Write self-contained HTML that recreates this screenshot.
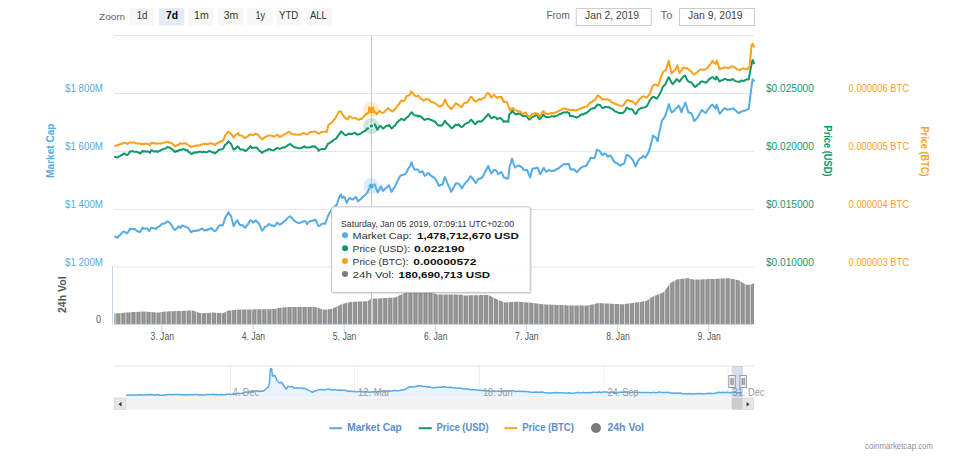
<!DOCTYPE html><html><head><meta charset="utf-8"><style>html,body{margin:0;padding:0;background:#fff;overflow:hidden}svg{display:block}text{font-family:"Liberation Sans",sans-serif}</style></head><body>
<svg width="961" height="462" viewBox="0 0 961 462">
<rect x="0" y="0" width="961" height="462" fill="#fff"/>
<text x="99.00" y="19.90" font-size="9.6" fill="#666" font-weight="normal" textLength="26.00" lengthAdjust="spacingAndGlyphs" >Zoom</text>
<rect x="129" y="8" width="25.5" height="17.5" rx="2" fill="#f7f7f7"/>
<text x="136.70" y="19.10" font-size="10.5" fill="#333" font-weight="normal" textLength="10.80" lengthAdjust="spacingAndGlyphs" >1d</text>
<rect x="158.8" y="8" width="25.5" height="17.5" rx="2" fill="#e6ebf5"/>
<text x="166.00" y="19.10" font-size="10.5" fill="#000" font-weight="bold" textLength="12.00" lengthAdjust="spacingAndGlyphs" >7d</text>
<rect x="188.2" y="8" width="25.5" height="17.5" rx="2" fill="#f7f7f7"/>
<text x="194.00" y="19.10" font-size="10.5" fill="#333" font-weight="normal" textLength="14.70" lengthAdjust="spacingAndGlyphs" >1m</text>
<rect x="218" y="8" width="25.5" height="17.5" rx="2" fill="#f7f7f7"/>
<text x="223.80" y="19.10" font-size="10.5" fill="#333" font-weight="normal" textLength="14.50" lengthAdjust="spacingAndGlyphs" >3m</text>
<rect x="247" y="8" width="25.5" height="17.5" rx="2" fill="#f7f7f7"/>
<text x="255.40" y="19.10" font-size="10.5" fill="#333" font-weight="normal" textLength="9.60" lengthAdjust="spacingAndGlyphs" >1y</text>
<rect x="277" y="8" width="25.5" height="17.5" rx="2" fill="#f7f7f7"/>
<text x="279.00" y="19.10" font-size="10.5" fill="#333" font-weight="normal" textLength="19.30" lengthAdjust="spacingAndGlyphs" >YTD</text>
<rect x="306.3" y="8" width="25.5" height="17.5" rx="2" fill="#f7f7f7"/>
<text x="310.00" y="19.10" font-size="10.5" fill="#333" font-weight="normal" textLength="16.90" lengthAdjust="spacingAndGlyphs" >ALL</text>
<text x="546.40" y="18.90" font-size="10" fill="#666" font-weight="normal" textLength="23.40" lengthAdjust="spacingAndGlyphs" >From</text>
<rect x="576.2" y="8.5" width="75" height="17" fill="#fff" stroke="#cccccc" stroke-width="1"/>
<text x="585.00" y="19.20" font-size="10.5" fill="#444" font-weight="normal" textLength="54.00" lengthAdjust="spacingAndGlyphs" >Jan 2, 2019</text>
<text x="660.60" y="18.90" font-size="10" fill="#666" font-weight="normal" textLength="11.70" lengthAdjust="spacingAndGlyphs" >To</text>
<rect x="679.5" y="8.5" width="75" height="17" fill="#fff" stroke="#cccccc" stroke-width="1"/>
<text x="688.00" y="19.20" font-size="10.5" fill="#444" font-weight="normal" textLength="54.60" lengthAdjust="spacingAndGlyphs" >Jan 9, 2019</text>
<g stroke="#e6e6e6" stroke-width="1">
<line x1="114" y1="35.5" x2="754" y2="35.5"/>
<line x1="114" y1="93.5" x2="754" y2="93.5"/>
<line x1="114" y1="151.5" x2="754" y2="151.5"/>
<line x1="114" y1="209.5" x2="754" y2="209.5"/>
<line x1="114" y1="267" x2="754" y2="267"/>
</g>
<text x="65.00" y="92.30" font-size="10" fill="#5aa9e0" font-weight="normal" textLength="38.00" lengthAdjust="spacingAndGlyphs" >$1 800M</text>
<text x="65.00" y="150.10" font-size="10" fill="#5aa9e0" font-weight="normal" textLength="38.00" lengthAdjust="spacingAndGlyphs" >$1 600M</text>
<text x="65.00" y="207.90" font-size="10" fill="#5aa9e0" font-weight="normal" textLength="38.00" lengthAdjust="spacingAndGlyphs" >$1 400M</text>
<text x="65.00" y="265.70" font-size="10" fill="#5aa9e0" font-weight="normal" textLength="38.00" lengthAdjust="spacingAndGlyphs" >$1 200M</text>
<text x="766.00" y="92.30" font-size="10" fill="#10976d" font-weight="normal" textLength="47.80" lengthAdjust="spacingAndGlyphs" >$0.025000</text>
<text x="848.60" y="92.30" font-size="10" fill="#f9a11b" font-weight="normal" textLength="60.40" lengthAdjust="spacingAndGlyphs" >0.000006 BTC</text>
<text x="766.00" y="150.10" font-size="10" fill="#10976d" font-weight="normal" textLength="47.80" lengthAdjust="spacingAndGlyphs" >$0.020000</text>
<text x="848.60" y="150.10" font-size="10" fill="#f9a11b" font-weight="normal" textLength="60.40" lengthAdjust="spacingAndGlyphs" >0.000005 BTC</text>
<text x="766.00" y="207.90" font-size="10" fill="#10976d" font-weight="normal" textLength="47.80" lengthAdjust="spacingAndGlyphs" >$0.015000</text>
<text x="848.60" y="207.90" font-size="10" fill="#f9a11b" font-weight="normal" textLength="60.40" lengthAdjust="spacingAndGlyphs" >0.000004 BTC</text>
<text x="766.00" y="265.70" font-size="10" fill="#10976d" font-weight="normal" textLength="47.80" lengthAdjust="spacingAndGlyphs" >$0.010000</text>
<text x="848.60" y="265.70" font-size="10" fill="#f9a11b" font-weight="normal" textLength="60.40" lengthAdjust="spacingAndGlyphs" >0.000003 BTC</text>
<g transform="translate(50.80,150.70) rotate(-90)"><text x="-27.20" y="3.67" font-size="10.5" fill="#55abe4" font-weight="bold" textLength="54.40" lengthAdjust="spacingAndGlyphs">Market Cap</text></g>
<g transform="translate(62.40,294.70) rotate(-90)"><text x="-18.30" y="3.67" font-size="10.5" fill="#555" font-weight="bold" textLength="36.60" lengthAdjust="spacingAndGlyphs">24h Vol</text></g>
<g transform="translate(828.00,151.00) rotate(90)"><text x="-25.50" y="3.67" font-size="10.5" fill="#10976d" font-weight="bold" textLength="51.00" lengthAdjust="spacingAndGlyphs">Price (USD)</text></g>
<g transform="translate(924.70,151.50) rotate(90)"><text x="-25.10" y="3.67" font-size="10.5" fill="#f9a11b" font-weight="bold" textLength="50.20" lengthAdjust="spacingAndGlyphs">Price (BTC)</text></g>
<polygon points="114.3,324.0 114.3,313.6 115.3,313.5 116.3,313.4 117.3,313.3 118.3,313.2 119.3,313.2 120.3,313.1 121.3,313.0 122.3,312.9 123.3,312.8 124.3,312.7 125.3,312.6 126.3,312.6 127.3,312.5 128.3,312.4 129.3,312.3 130.3,312.2 131.3,312.2 132.3,312.1 133.3,312.1 134.3,312.0 135.3,312.0 136.3,311.9 137.3,311.8 138.3,311.8 139.3,311.7 140.3,311.7 141.3,311.6 142.3,311.6 143.3,311.5 144.3,311.5 145.3,311.6 146.3,311.7 147.3,311.8 148.3,311.8 149.3,311.9 150.3,312.0 151.3,312.1 152.3,312.2 153.3,312.2 154.3,312.3 155.3,312.4 156.3,312.5 157.3,312.5 158.3,312.6 159.3,312.4 160.3,312.2 161.3,312.1 162.3,311.9 163.3,311.8 164.3,311.6 165.3,311.5 166.3,311.5 167.3,311.4 168.3,311.4 169.3,311.3 170.3,311.3 171.3,311.3 172.3,311.2 173.3,311.2 174.3,311.2 175.3,311.1 176.3,311.1 177.3,311.1 178.3,311.0 179.3,311.0 180.3,310.9 181.3,310.9 182.3,310.9 183.3,310.8 184.3,310.8 185.3,310.8 186.3,310.7 187.3,310.7 188.3,310.6 189.3,310.6 190.3,310.6 191.3,310.5 192.3,310.5 193.3,310.8 194.3,311.1 195.3,311.4 196.3,311.8 197.3,312.1 198.3,312.4 199.3,312.7 200.3,313.1 201.3,313.3 202.3,313.2 203.3,313.2 204.3,313.1 205.3,313.0 206.3,313.0 207.3,312.9 208.3,312.9 209.3,312.8 210.3,312.8 211.3,312.7 212.3,312.6 213.3,312.6 214.3,312.7 215.3,312.8 216.3,312.8 217.3,312.9 218.3,313.0 219.3,313.0 220.3,313.1 221.3,313.2 222.3,313.3 223.3,313.1 224.3,312.6 225.3,312.1 226.3,311.6 227.3,311.1 228.3,310.6 229.3,310.4 230.3,310.4 231.3,310.3 232.3,310.2 233.3,310.1 234.3,310.0 235.3,309.9 236.3,309.9 237.3,309.8 238.3,309.7 239.3,309.6 240.3,309.5 241.3,309.5 242.3,309.5 243.3,309.5 244.3,309.5 245.3,309.4 246.3,309.4 247.3,309.4 248.3,309.4 249.3,309.4 250.3,309.4 251.3,309.4 252.3,309.4 253.3,309.4 254.3,309.3 255.3,309.3 256.3,309.3 257.3,309.3 258.3,309.3 259.3,309.3 260.3,309.3 261.3,309.3 262.3,309.2 263.3,309.2 264.3,309.2 265.3,309.2 266.3,309.2 267.3,309.2 268.3,309.2 269.3,309.2 270.3,309.2 271.3,309.1 272.3,309.1 273.3,309.1 274.3,309.1 275.3,308.9 276.3,308.6 277.3,308.2 278.3,308.0 279.3,307.9 280.3,307.8 281.3,307.7 282.3,307.6 283.3,307.5 284.3,307.4 285.3,307.3 286.3,307.2 287.3,307.1 288.3,307.0 289.3,307.0 290.3,307.0 291.3,307.0 292.3,307.0 293.3,307.0 294.3,307.0 295.3,307.0 296.3,307.0 297.3,307.0 298.3,307.0 299.3,307.0 300.3,307.0 301.3,307.0 302.3,307.0 303.3,307.0 304.3,307.0 305.3,307.0 306.3,307.0 307.3,307.0 308.3,307.0 309.3,307.0 310.3,307.0 311.3,307.0 312.3,307.0 313.3,307.0 314.3,307.0 315.3,307.0 316.3,307.1 317.3,307.5 318.3,307.9 319.3,308.3 320.3,308.7 321.3,309.1 322.3,309.5 323.3,309.8 324.3,309.7 325.3,309.6 326.3,309.5 327.3,309.4 328.3,309.3 329.3,309.2 330.3,309.1 331.3,309.0 332.3,308.6 333.3,308.2 334.3,307.7 335.3,307.3 336.3,306.8 337.3,306.4 338.3,305.9 339.3,305.5 340.3,305.0 341.3,304.6 342.3,304.1 343.3,303.7 344.3,303.4 345.3,303.2 346.3,302.9 347.3,302.7 348.3,302.4 349.3,302.2 350.3,302.0 351.3,301.9 352.3,301.9 353.3,301.8 354.3,301.8 355.3,301.8 356.3,301.7 357.3,301.7 358.3,301.6 359.3,301.6 360.3,301.5 361.3,301.5 362.3,301.4 363.3,301.4 364.3,301.3 365.3,301.3 366.3,301.3 367.3,301.2 368.3,300.7 369.3,300.0 370.3,299.3 371.3,298.8 372.3,298.7 373.3,298.7 374.3,298.6 375.3,298.6 376.3,298.5 377.3,298.5 378.3,298.4 379.3,298.4 380.3,298.3 381.3,298.2 382.3,298.2 383.3,298.1 384.3,298.1 385.3,298.0 386.3,298.0 387.3,297.9 388.3,297.9 389.3,297.8 390.3,297.8 391.3,297.7 392.3,297.6 393.3,297.6 394.3,297.5 395.3,297.4 396.3,296.9 397.3,296.5 398.3,296.0 399.3,295.6 400.3,295.1 401.3,294.7 402.3,294.2 403.3,293.8 404.3,293.3 405.3,293.0 406.3,293.0 407.3,292.9 408.3,292.9 409.3,292.9 410.3,292.9 411.3,292.8 412.3,292.8 413.3,292.8 414.3,292.7 415.3,292.7 416.3,292.7 417.3,292.7 418.3,292.6 419.3,292.6 420.3,292.6 421.3,292.5 422.3,292.5 423.3,292.5 424.3,292.5 425.3,292.4 426.3,292.4 427.3,292.4 428.3,292.3 429.3,292.3 430.3,292.4 431.3,292.7 432.3,293.0 433.3,293.3 434.3,293.6 435.3,293.9 436.3,294.2 437.3,294.4 438.3,294.4 439.3,294.4 440.3,294.4 441.3,294.5 442.3,294.5 443.3,294.5 444.3,294.5 445.3,294.5 446.3,294.5 447.3,294.5 448.3,294.5 449.3,294.6 450.3,294.6 451.3,294.6 452.3,294.6 453.3,294.6 454.3,294.6 455.3,294.6 456.3,294.6 457.3,294.7 458.3,294.7 459.3,294.7 460.3,294.7 461.3,294.8 462.3,295.0 463.3,295.2 464.3,295.4 465.3,295.4 466.3,295.4 467.3,295.4 468.3,295.3 469.3,295.3 470.3,295.3 471.3,295.3 472.3,295.3 473.3,295.3 474.3,295.2 475.3,295.2 476.3,295.2 477.3,295.2 478.3,295.2 479.3,295.2 480.3,295.1 481.3,295.1 482.3,295.1 483.3,295.1 484.3,295.1 485.3,295.1 486.3,295.0 487.3,295.0 488.3,295.0 489.3,295.5 490.3,296.0 491.3,296.5 492.3,297.0 493.3,297.5 494.3,298.0 495.3,298.5 496.3,299.0 497.3,299.5 498.3,300.0 499.3,300.4 500.3,300.8 501.3,301.1 502.3,301.5 503.3,301.8 504.3,302.2 505.3,302.5 506.3,302.5 507.3,302.4 508.3,302.3 509.3,302.2 510.3,302.1 511.3,302.0 512.3,301.9 513.3,301.9 514.3,301.8 515.3,301.7 516.3,301.6 517.3,301.7 518.3,301.8 519.3,301.8 520.3,301.9 521.3,302.0 522.3,302.1 523.3,302.1 524.3,302.2 525.3,302.3 526.3,302.4 527.3,302.4 528.3,302.5 529.3,302.6 530.3,302.7 531.3,302.8 532.3,302.9 533.3,303.1 534.3,303.2 535.3,303.3 536.3,303.4 537.3,303.6 538.3,303.7 539.3,303.8 540.3,303.9 541.3,304.1 542.3,304.2 543.3,304.3 544.3,304.3 545.3,304.4 546.3,304.4 547.3,304.5 548.3,304.5 549.3,304.6 550.3,304.6 551.3,304.7 552.3,304.7 553.3,304.8 554.3,304.8 555.3,304.8 556.3,304.9 557.3,304.9 558.3,305.0 559.3,305.0 560.3,305.1 561.3,305.1 562.3,305.2 563.3,305.2 564.3,305.3 565.3,305.3 566.3,305.3 567.3,305.4 568.3,305.4 569.3,305.4 570.3,305.4 571.3,305.4 572.3,305.4 573.3,305.4 574.3,305.4 575.3,305.4 576.3,305.4 577.3,305.4 578.3,305.4 579.3,305.4 580.3,305.4 581.3,305.4 582.3,305.4 583.3,305.4 584.3,305.4 585.3,305.4 586.3,305.4 587.3,305.4 588.3,305.3 589.3,305.1 590.3,304.9 591.3,304.6 592.3,304.4 593.3,304.2 594.3,303.9 595.3,303.7 596.3,303.5 597.3,303.2 598.3,303.0 599.3,303.1 600.3,303.1 601.3,303.2 602.3,303.2 603.3,303.3 604.3,303.3 605.3,303.4 606.3,303.4 607.3,303.5 608.3,303.5 609.3,303.6 610.3,303.6 611.3,303.7 612.3,303.8 613.3,303.8 614.3,303.9 615.3,303.9 616.3,304.0 617.3,304.0 618.3,304.1 619.3,304.1 620.3,304.2 621.3,304.2 622.3,304.3 623.3,304.2 624.3,304.1 625.3,303.9 626.3,303.8 627.3,303.7 628.3,303.6 629.3,303.4 630.3,303.3 631.3,303.2 632.3,303.1 633.3,302.9 634.3,302.8 635.3,302.7 636.3,302.6 637.3,302.4 638.3,302.2 639.3,302.1 640.3,301.9 641.3,301.7 642.3,301.6 643.3,301.4 644.3,301.2 645.3,301.1 646.3,300.9 647.3,300.2 648.3,299.6 649.3,298.9 650.3,298.3 651.3,297.6 652.3,297.0 653.3,296.4 654.3,296.0 655.3,295.6 656.3,295.2 657.3,294.8 658.3,294.4 659.3,294.0 660.3,293.6 661.3,293.2 662.3,292.8 663.3,292.4 664.3,291.2 665.3,289.9 666.3,288.5 667.3,287.2 668.3,285.8 669.3,284.5 670.3,283.1 671.3,282.5 672.3,282.0 673.3,281.4 674.3,280.9 675.3,280.4 676.3,279.8 677.3,279.3 678.3,279.2 679.3,279.1 680.3,279.0 681.3,278.9 682.3,278.8 683.3,278.7 684.3,278.6 685.3,278.4 686.3,278.3 687.3,278.2 688.3,278.3 689.3,278.6 690.3,278.8 691.3,279.0 692.3,279.2 693.3,279.4 694.3,279.6 695.3,279.6 696.3,279.5 697.3,279.5 698.3,279.5 699.3,279.5 700.3,279.4 701.3,279.4 702.3,279.4 703.3,279.3 704.3,279.3 705.3,279.3 706.3,279.2 707.3,279.2 708.3,279.1 709.3,279.1 710.3,279.0 711.3,279.0 712.3,279.0 713.3,278.9 714.3,278.9 715.3,278.8 716.3,278.8 717.3,278.7 718.3,278.7 719.3,278.6 720.3,278.6 721.3,278.5 722.3,278.5 723.3,278.5 724.3,278.4 725.3,278.4 726.3,278.3 727.3,278.3 728.3,278.2 729.3,278.3 730.3,278.5 731.3,278.7 732.3,278.9 733.3,279.1 734.3,279.3 735.3,279.5 736.3,279.7 737.3,279.9 738.3,280.2 739.3,280.5 740.3,281.1 741.3,281.8 742.3,282.4 743.3,283.1 744.3,283.7 745.3,284.3 746.3,284.8 747.3,284.8 748.3,284.8 749.3,284.8 750.3,284.8 751.3,284.6 752.3,284.0 753.3,283.4 754.0,283.0 754.0,324.0" fill="#8f8f8f"/>
<g stroke="#fff" stroke-width="0.85" stroke-opacity="0.8">
<line x1="115.80" y1="312.45" x2="115.80" y2="324"/>
<line x1="120.84" y1="312.02" x2="120.84" y2="324"/>
<line x1="125.87" y1="311.60" x2="125.87" y2="324"/>
<line x1="130.91" y1="311.18" x2="130.91" y2="324"/>
<line x1="135.94" y1="310.92" x2="135.94" y2="324"/>
<line x1="140.98" y1="310.66" x2="140.98" y2="324"/>
<line x1="146.02" y1="310.66" x2="146.02" y2="324"/>
<line x1="151.05" y1="311.05" x2="151.05" y2="324"/>
<line x1="156.09" y1="311.45" x2="156.09" y2="324"/>
<line x1="161.12" y1="311.11" x2="161.12" y2="324"/>
<line x1="166.16" y1="310.46" x2="166.16" y2="324"/>
<line x1="171.20" y1="310.27" x2="171.20" y2="324"/>
<line x1="176.23" y1="310.09" x2="176.23" y2="324"/>
<line x1="181.27" y1="309.91" x2="181.27" y2="324"/>
<line x1="186.30" y1="309.72" x2="186.30" y2="324"/>
<line x1="191.34" y1="309.54" x2="191.34" y2="324"/>
<line x1="196.38" y1="310.79" x2="196.38" y2="324"/>
<line x1="201.41" y1="312.28" x2="201.41" y2="324"/>
<line x1="206.45" y1="311.98" x2="206.45" y2="324"/>
<line x1="211.48" y1="311.69" x2="211.48" y2="324"/>
<line x1="216.52" y1="311.85" x2="216.52" y2="324"/>
<line x1="221.56" y1="312.20" x2="221.56" y2="324"/>
<line x1="226.59" y1="310.47" x2="226.59" y2="324"/>
<line x1="231.63" y1="309.24" x2="231.63" y2="324"/>
<line x1="236.66" y1="308.82" x2="236.66" y2="324"/>
<line x1="241.70" y1="308.49" x2="241.70" y2="324"/>
<line x1="246.74" y1="308.43" x2="246.74" y2="324"/>
<line x1="251.77" y1="308.37" x2="251.77" y2="324"/>
<line x1="256.81" y1="308.31" x2="256.81" y2="324"/>
<line x1="261.84" y1="308.25" x2="261.84" y2="324"/>
<line x1="266.88" y1="308.19" x2="266.88" y2="324"/>
<line x1="271.92" y1="308.13" x2="271.92" y2="324"/>
<line x1="276.95" y1="307.36" x2="276.95" y2="324"/>
<line x1="281.99" y1="306.62" x2="281.99" y2="324"/>
<line x1="287.02" y1="306.15" x2="287.02" y2="324"/>
<line x1="292.06" y1="306.00" x2="292.06" y2="324"/>
<line x1="297.10" y1="306.00" x2="297.10" y2="324"/>
<line x1="302.13" y1="306.00" x2="302.13" y2="324"/>
<line x1="307.17" y1="306.00" x2="307.17" y2="324"/>
<line x1="312.20" y1="306.00" x2="312.20" y2="324"/>
<line x1="317.24" y1="306.50" x2="317.24" y2="324"/>
<line x1="322.28" y1="308.51" x2="322.28" y2="324"/>
<line x1="327.31" y1="308.39" x2="327.31" y2="324"/>
<line x1="332.35" y1="307.62" x2="332.35" y2="324"/>
<line x1="337.38" y1="305.35" x2="337.38" y2="324"/>
<line x1="342.42" y1="303.09" x2="342.42" y2="324"/>
<line x1="347.46" y1="301.63" x2="347.46" y2="324"/>
<line x1="352.49" y1="300.89" x2="352.49" y2="324"/>
<line x1="357.53" y1="300.66" x2="357.53" y2="324"/>
<line x1="362.56" y1="300.43" x2="362.56" y2="324"/>
<line x1="367.60" y1="300.13" x2="367.60" y2="324"/>
<line x1="372.64" y1="297.71" x2="372.64" y2="324"/>
<line x1="377.67" y1="297.44" x2="377.67" y2="324"/>
<line x1="382.71" y1="297.17" x2="382.71" y2="324"/>
<line x1="387.74" y1="296.89" x2="387.74" y2="324"/>
<line x1="392.78" y1="296.62" x2="392.78" y2="324"/>
<line x1="397.82" y1="295.23" x2="397.82" y2="324"/>
<line x1="402.85" y1="292.97" x2="402.85" y2="324"/>
<line x1="407.89" y1="291.92" x2="407.89" y2="324"/>
<line x1="412.92" y1="291.78" x2="412.92" y2="324"/>
<line x1="417.96" y1="291.64" x2="417.96" y2="324"/>
<line x1="423.00" y1="291.50" x2="423.00" y2="324"/>
<line x1="428.03" y1="291.36" x2="428.03" y2="324"/>
<line x1="433.07" y1="292.23" x2="433.07" y2="324"/>
<line x1="438.10" y1="293.41" x2="438.10" y2="324"/>
<line x1="443.14" y1="293.48" x2="443.14" y2="324"/>
<line x1="448.18" y1="293.54" x2="448.18" y2="324"/>
<line x1="453.21" y1="293.60" x2="453.21" y2="324"/>
<line x1="458.25" y1="293.67" x2="458.25" y2="324"/>
<line x1="463.28" y1="294.18" x2="463.28" y2="324"/>
<line x1="468.32" y1="294.33" x2="468.32" y2="324"/>
<line x1="473.36" y1="294.25" x2="473.36" y2="324"/>
<line x1="478.39" y1="294.17" x2="478.39" y2="324"/>
<line x1="483.43" y1="294.08" x2="483.43" y2="324"/>
<line x1="488.46" y1="294.03" x2="488.46" y2="324"/>
<line x1="493.50" y1="296.57" x2="493.50" y2="324"/>
<line x1="498.54" y1="299.12" x2="498.54" y2="324"/>
<line x1="503.57" y1="300.92" x2="503.57" y2="324"/>
<line x1="508.61" y1="301.30" x2="508.61" y2="324"/>
<line x1="513.64" y1="300.82" x2="513.64" y2="324"/>
<line x1="518.68" y1="300.80" x2="518.68" y2="324"/>
<line x1="523.72" y1="301.17" x2="523.72" y2="324"/>
<line x1="528.75" y1="301.54" x2="528.75" y2="324"/>
<line x1="533.79" y1="302.12" x2="533.79" y2="324"/>
<line x1="538.82" y1="302.74" x2="538.82" y2="324"/>
<line x1="543.86" y1="303.33" x2="543.86" y2="324"/>
<line x1="548.90" y1="303.56" x2="548.90" y2="324"/>
<line x1="553.93" y1="303.79" x2="553.93" y2="324"/>
<line x1="558.97" y1="304.02" x2="558.97" y2="324"/>
<line x1="564.00" y1="304.24" x2="564.00" y2="324"/>
<line x1="569.04" y1="304.40" x2="569.04" y2="324"/>
<line x1="574.08" y1="304.40" x2="574.08" y2="324"/>
<line x1="579.11" y1="304.40" x2="579.11" y2="324"/>
<line x1="584.15" y1="304.40" x2="584.15" y2="324"/>
<line x1="589.18" y1="304.12" x2="589.18" y2="324"/>
<line x1="594.22" y1="302.95" x2="594.22" y2="324"/>
<line x1="599.26" y1="302.05" x2="599.26" y2="324"/>
<line x1="604.29" y1="302.32" x2="604.29" y2="324"/>
<line x1="609.33" y1="302.60" x2="609.33" y2="324"/>
<line x1="614.36" y1="302.87" x2="614.36" y2="324"/>
<line x1="619.40" y1="303.14" x2="619.40" y2="324"/>
<line x1="624.44" y1="303.03" x2="624.44" y2="324"/>
<line x1="629.47" y1="302.41" x2="629.47" y2="324"/>
<line x1="634.51" y1="301.79" x2="634.51" y2="324"/>
<line x1="639.54" y1="301.02" x2="639.54" y2="324"/>
<line x1="644.58" y1="300.18" x2="644.58" y2="324"/>
<line x1="649.62" y1="297.74" x2="649.62" y2="324"/>
<line x1="654.65" y1="294.82" x2="654.65" y2="324"/>
<line x1="659.69" y1="292.82" x2="659.69" y2="324"/>
<line x1="664.72" y1="289.65" x2="664.72" y2="324"/>
<line x1="669.76" y1="282.86" x2="669.76" y2="324"/>
<line x1="674.80" y1="279.64" x2="674.80" y2="324"/>
<line x1="679.83" y1="278.03" x2="679.83" y2="324"/>
<line x1="684.87" y1="277.49" x2="684.87" y2="324"/>
<line x1="689.90" y1="277.67" x2="689.90" y2="324"/>
<line x1="694.94" y1="278.58" x2="694.94" y2="324"/>
<line x1="699.98" y1="278.44" x2="699.98" y2="324"/>
<line x1="705.01" y1="278.29" x2="705.01" y2="324"/>
<line x1="710.05" y1="278.06" x2="710.05" y2="324"/>
<line x1="715.08" y1="277.83" x2="715.08" y2="324"/>
<line x1="720.12" y1="277.60" x2="720.12" y2="324"/>
<line x1="725.16" y1="277.37" x2="725.16" y2="324"/>
<line x1="730.19" y1="277.49" x2="730.19" y2="324"/>
<line x1="735.23" y1="278.52" x2="735.23" y2="324"/>
<line x1="740.26" y1="280.11" x2="740.26" y2="324"/>
<line x1="745.30" y1="283.35" x2="745.30" y2="324"/>
<line x1="750.34" y1="283.80" x2="750.34" y2="324"/>
</g>
<g stroke="#fff" stroke-width="0.6" stroke-opacity="0.18">
<line x1="118.32" y1="312.24" x2="118.32" y2="324"/>
<line x1="123.35" y1="311.81" x2="123.35" y2="324"/>
<line x1="128.39" y1="311.39" x2="128.39" y2="324"/>
<line x1="133.43" y1="311.05" x2="133.43" y2="324"/>
<line x1="138.46" y1="310.79" x2="138.46" y2="324"/>
<line x1="143.50" y1="310.53" x2="143.50" y2="324"/>
<line x1="148.53" y1="310.86" x2="148.53" y2="324"/>
<line x1="153.57" y1="311.25" x2="153.57" y2="324"/>
<line x1="158.61" y1="311.50" x2="158.61" y2="324"/>
<line x1="163.64" y1="310.71" x2="163.64" y2="324"/>
<line x1="168.68" y1="310.37" x2="168.68" y2="324"/>
<line x1="173.71" y1="310.18" x2="173.71" y2="324"/>
<line x1="178.75" y1="310.00" x2="178.75" y2="324"/>
<line x1="183.79" y1="309.81" x2="183.79" y2="324"/>
<line x1="188.82" y1="309.63" x2="188.82" y2="324"/>
<line x1="193.86" y1="309.97" x2="193.86" y2="324"/>
<line x1="198.89" y1="311.61" x2="198.89" y2="324"/>
<line x1="203.93" y1="312.13" x2="203.93" y2="324"/>
<line x1="208.97" y1="311.84" x2="208.97" y2="324"/>
<line x1="214.00" y1="311.67" x2="214.00" y2="324"/>
<line x1="219.04" y1="312.02" x2="219.04" y2="324"/>
<line x1="224.07" y1="311.75" x2="224.07" y2="324"/>
<line x1="229.11" y1="309.45" x2="229.11" y2="324"/>
<line x1="234.15" y1="309.03" x2="234.15" y2="324"/>
<line x1="239.18" y1="308.61" x2="239.18" y2="324"/>
<line x1="244.22" y1="308.46" x2="244.22" y2="324"/>
<line x1="249.25" y1="308.40" x2="249.25" y2="324"/>
<line x1="254.29" y1="308.34" x2="254.29" y2="324"/>
<line x1="259.33" y1="308.28" x2="259.33" y2="324"/>
<line x1="264.36" y1="308.22" x2="264.36" y2="324"/>
<line x1="269.40" y1="308.16" x2="269.40" y2="324"/>
<line x1="274.43" y1="308.10" x2="274.43" y2="324"/>
<line x1="279.47" y1="306.86" x2="279.47" y2="324"/>
<line x1="284.51" y1="306.39" x2="284.51" y2="324"/>
<line x1="289.54" y1="306.00" x2="289.54" y2="324"/>
<line x1="294.58" y1="306.00" x2="294.58" y2="324"/>
<line x1="299.61" y1="306.00" x2="299.61" y2="324"/>
<line x1="304.65" y1="306.00" x2="304.65" y2="324"/>
<line x1="309.69" y1="306.00" x2="309.69" y2="324"/>
<line x1="314.72" y1="306.00" x2="314.72" y2="324"/>
<line x1="319.76" y1="307.50" x2="319.76" y2="324"/>
<line x1="324.79" y1="308.63" x2="324.79" y2="324"/>
<line x1="329.83" y1="308.16" x2="329.83" y2="324"/>
<line x1="334.87" y1="306.49" x2="334.87" y2="324"/>
<line x1="339.90" y1="304.22" x2="339.90" y2="324"/>
<line x1="344.94" y1="302.25" x2="344.94" y2="324"/>
<line x1="349.97" y1="301.01" x2="349.97" y2="324"/>
<line x1="355.01" y1="300.77" x2="355.01" y2="324"/>
<line x1="360.05" y1="300.54" x2="360.05" y2="324"/>
<line x1="365.08" y1="300.31" x2="365.08" y2="324"/>
<line x1="370.12" y1="298.40" x2="370.12" y2="324"/>
<line x1="375.15" y1="297.57" x2="375.15" y2="324"/>
<line x1="380.19" y1="297.30" x2="380.19" y2="324"/>
<line x1="385.23" y1="297.03" x2="385.23" y2="324"/>
<line x1="390.26" y1="296.76" x2="390.26" y2="324"/>
<line x1="395.30" y1="296.37" x2="395.30" y2="324"/>
<line x1="400.33" y1="294.10" x2="400.33" y2="324"/>
<line x1="405.37" y1="291.99" x2="405.37" y2="324"/>
<line x1="410.41" y1="291.85" x2="410.41" y2="324"/>
<line x1="415.44" y1="291.71" x2="415.44" y2="324"/>
<line x1="420.48" y1="291.57" x2="420.48" y2="324"/>
<line x1="425.51" y1="291.43" x2="425.51" y2="324"/>
<line x1="430.55" y1="291.47" x2="430.55" y2="324"/>
<line x1="435.59" y1="293.00" x2="435.59" y2="324"/>
<line x1="440.62" y1="293.45" x2="440.62" y2="324"/>
<line x1="445.66" y1="293.51" x2="445.66" y2="324"/>
<line x1="450.69" y1="293.57" x2="450.69" y2="324"/>
<line x1="455.73" y1="293.63" x2="455.73" y2="324"/>
<line x1="460.77" y1="293.70" x2="460.77" y2="324"/>
<line x1="465.80" y1="294.38" x2="465.80" y2="324"/>
<line x1="470.84" y1="294.29" x2="470.84" y2="324"/>
<line x1="475.87" y1="294.21" x2="475.87" y2="324"/>
<line x1="480.91" y1="294.12" x2="480.91" y2="324"/>
<line x1="485.95" y1="294.04" x2="485.95" y2="324"/>
<line x1="490.98" y1="295.30" x2="490.98" y2="324"/>
<line x1="496.02" y1="297.85" x2="496.02" y2="324"/>
<line x1="501.05" y1="300.03" x2="501.05" y2="324"/>
<line x1="506.09" y1="301.54" x2="506.09" y2="324"/>
<line x1="511.13" y1="301.06" x2="511.13" y2="324"/>
<line x1="516.16" y1="300.62" x2="516.16" y2="324"/>
<line x1="521.20" y1="300.99" x2="521.20" y2="324"/>
<line x1="526.23" y1="301.35" x2="526.23" y2="324"/>
<line x1="531.27" y1="301.81" x2="531.27" y2="324"/>
<line x1="536.31" y1="302.43" x2="536.31" y2="324"/>
<line x1="541.34" y1="303.06" x2="541.34" y2="324"/>
<line x1="546.38" y1="303.44" x2="546.38" y2="324"/>
<line x1="551.41" y1="303.67" x2="551.41" y2="324"/>
<line x1="556.45" y1="303.90" x2="556.45" y2="324"/>
<line x1="561.49" y1="304.13" x2="561.49" y2="324"/>
<line x1="566.52" y1="304.36" x2="566.52" y2="324"/>
<line x1="571.56" y1="304.40" x2="571.56" y2="324"/>
<line x1="576.59" y1="304.40" x2="576.59" y2="324"/>
<line x1="581.63" y1="304.40" x2="581.63" y2="324"/>
<line x1="586.67" y1="304.40" x2="586.67" y2="324"/>
<line x1="591.70" y1="303.54" x2="591.70" y2="324"/>
<line x1="596.74" y1="302.36" x2="596.74" y2="324"/>
<line x1="601.77" y1="302.19" x2="601.77" y2="324"/>
<line x1="606.81" y1="302.46" x2="606.81" y2="324"/>
<line x1="611.85" y1="302.73" x2="611.85" y2="324"/>
<line x1="616.88" y1="303.01" x2="616.88" y2="324"/>
<line x1="621.92" y1="303.28" x2="621.92" y2="324"/>
<line x1="626.95" y1="302.72" x2="626.95" y2="324"/>
<line x1="631.99" y1="302.10" x2="631.99" y2="324"/>
<line x1="637.03" y1="301.43" x2="637.03" y2="324"/>
<line x1="642.06" y1="300.60" x2="642.06" y2="324"/>
<line x1="647.10" y1="299.38" x2="647.10" y2="324"/>
<line x1="652.13" y1="296.10" x2="652.13" y2="324"/>
<line x1="657.17" y1="293.82" x2="657.17" y2="324"/>
<line x1="662.21" y1="291.82" x2="662.21" y2="324"/>
<line x1="667.24" y1="286.26" x2="667.24" y2="324"/>
<line x1="672.28" y1="280.99" x2="672.28" y2="324"/>
<line x1="677.31" y1="278.30" x2="677.31" y2="324"/>
<line x1="682.35" y1="277.76" x2="682.35" y2="324"/>
<line x1="687.39" y1="277.22" x2="687.39" y2="324"/>
<line x1="692.42" y1="278.19" x2="692.42" y2="324"/>
<line x1="697.46" y1="278.51" x2="697.46" y2="324"/>
<line x1="702.49" y1="278.36" x2="702.49" y2="324"/>
<line x1="707.53" y1="278.17" x2="707.53" y2="324"/>
<line x1="712.57" y1="277.94" x2="712.57" y2="324"/>
<line x1="717.60" y1="277.71" x2="717.60" y2="324"/>
<line x1="722.64" y1="277.48" x2="722.64" y2="324"/>
<line x1="727.67" y1="277.25" x2="727.67" y2="324"/>
<line x1="732.71" y1="278.00" x2="732.71" y2="324"/>
<line x1="737.75" y1="279.04" x2="737.75" y2="324"/>
<line x1="742.78" y1="281.73" x2="742.78" y2="324"/>
<line x1="747.82" y1="283.80" x2="747.82" y2="324"/>
<line x1="752.85" y1="282.69" x2="752.85" y2="324"/>
</g>
<line x1="112.5" y1="266" x2="112.5" y2="324.5" stroke="#ccd6eb" stroke-width="1"/>
<line x1="114" y1="324.5" x2="754" y2="324.5" stroke="#ccd6eb" stroke-width="1"/>
<text x="96.00" y="322.70" font-size="10" fill="#555" font-weight="normal" textLength="5.00" lengthAdjust="spacingAndGlyphs" >0</text>
<line x1="161.8" y1="324.5" x2="161.8" y2="332" stroke="#ccd6eb" stroke-width="1"/>
<text x="150.50" y="339.60" font-size="10" fill="#555" font-weight="normal" textLength="23.50" lengthAdjust="spacingAndGlyphs" >3. Jan</text>
<line x1="253.0" y1="324.5" x2="253.0" y2="332" stroke="#ccd6eb" stroke-width="1"/>
<text x="241.65" y="339.60" font-size="10" fill="#555" font-weight="normal" textLength="23.50" lengthAdjust="spacingAndGlyphs" >4. Jan</text>
<line x1="344.1" y1="324.5" x2="344.1" y2="332" stroke="#ccd6eb" stroke-width="1"/>
<text x="332.80" y="339.60" font-size="10" fill="#555" font-weight="normal" textLength="23.50" lengthAdjust="spacingAndGlyphs" >5. Jan</text>
<line x1="435.3" y1="324.5" x2="435.3" y2="332" stroke="#ccd6eb" stroke-width="1"/>
<text x="423.95" y="339.60" font-size="10" fill="#555" font-weight="normal" textLength="23.50" lengthAdjust="spacingAndGlyphs" >6. Jan</text>
<line x1="526.4" y1="324.5" x2="526.4" y2="332" stroke="#ccd6eb" stroke-width="1"/>
<text x="515.10" y="339.60" font-size="10" fill="#555" font-weight="normal" textLength="23.50" lengthAdjust="spacingAndGlyphs" >7. Jan</text>
<line x1="617.5" y1="324.5" x2="617.5" y2="332" stroke="#ccd6eb" stroke-width="1"/>
<text x="606.25" y="339.60" font-size="10" fill="#555" font-weight="normal" textLength="23.50" lengthAdjust="spacingAndGlyphs" >8. Jan</text>
<line x1="708.7" y1="324.5" x2="708.7" y2="332" stroke="#ccd6eb" stroke-width="1"/>
<text x="697.40" y="339.60" font-size="10" fill="#555" font-weight="normal" textLength="23.50" lengthAdjust="spacingAndGlyphs" >9. Jan</text>
<line x1="371.5" y1="35.5" x2="371.5" y2="324" stroke="#cccccc" stroke-width="1"/>
<polyline points="115.0,236.8 116.2,237.0 117.5,237.8 118.7,236.2 120.0,235.1 121.2,233.8 122.5,232.0 123.7,231.6 125.0,232.2 125.9,232.5 126.9,233.4 128.4,231.8 130.0,228.7 131.2,229.2 132.5,228.9 133.7,229.3 135.0,229.0 136.2,230.3 137.5,231.4 138.7,231.4 140.0,232.1 141.2,230.2 142.5,227.6 143.7,228.7 145.0,228.8 146.2,228.6 147.5,228.5 148.4,230.4 149.3,230.9 150.3,229.3 151.2,227.6 152.5,227.9 153.7,228.6 155.0,228.3 156.2,229.0 157.5,227.4 158.7,226.7 160.0,226.0 161.2,224.5 162.4,223.9 163.7,223.4 164.9,223.6 166.2,222.1 167.4,221.4 168.7,221.9 169.9,223.1 171.2,224.8 172.4,226.7 173.4,228.4 174.3,229.8 175.2,229.7 176.2,228.9 177.4,227.8 178.7,226.4 179.6,227.4 180.6,227.9 181.5,226.0 182.4,225.4 183.7,226.1 184.9,226.7 186.2,226.8 187.4,227.5 188.7,228.6 189.9,230.9 191.2,232.3 192.4,231.4 193.7,230.7 194.9,231.0 196.2,231.1 197.4,230.1 198.7,230.5 199.9,229.7 201.2,229.0 202.4,228.7 203.7,229.9 204.9,230.6 206.2,229.7 207.4,230.3 208.7,229.0 209.9,229.0 211.1,227.9 212.4,229.5 213.6,230.5 214.9,231.0 216.1,230.4 217.4,228.5 218.6,226.4 219.9,225.1 220.0,225.0 221.3,225.2 222.6,225.4 223.9,221.9 225.2,217.7 226.3,215.7 227.4,214.6 228.4,212.1 229.7,214.4 231.0,216.0 232.3,220.8 233.6,226.3 234.9,223.9 236.2,221.5 237.5,220.4 238.5,222.5 239.5,224.7 240.6,225.3 241.6,225.1 242.7,225.2 244.0,226.8 245.3,227.6 246.6,225.7 247.9,224.5 249.2,222.0 250.5,220.1 251.8,220.8 253.1,222.6 254.4,221.8 255.7,220.2 257.0,221.8 258.3,222.8 259.6,224.9 260.9,228.2 262.2,230.7 263.5,229.2 264.8,227.0 266.1,226.6 267.4,225.7 268.7,224.1 269.8,224.3 270.9,225.2 271.9,225.8 273.2,225.5 274.5,226.3 275.8,224.6 277.1,222.5 278.4,223.7 279.7,224.8 281.0,223.9 282.3,223.1 283.6,221.8 284.7,220.9 285.8,220.3 286.9,218.5 288.4,217.5 289.9,216.2 291.3,217.3 292.7,218.7 294.0,220.6 295.3,221.2 296.6,222.3 297.9,222.7 299.2,223.1 300.5,222.5 302.0,222.0 303.5,221.3 305.1,221.1 306.0,222.1 307.0,224.1 308.3,222.3 309.6,221.5 310.9,220.9 312.4,220.9 313.9,220.2 315.5,219.8 316.5,221.8 317.6,224.4 318.7,226.2 320.0,225.6 321.3,224.3 322.6,223.5 323.9,223.5 325.2,224.0 326.5,220.1 327.8,216.5 329.3,213.6 330.8,211.0 332.3,208.8 333.8,207.0 335.3,205.7 336.8,205.0 338.0,201.3 339.1,197.5 340.0,195.6 340.9,194.3 342.1,198.0 343.3,196.8 344.4,196.9 345.5,199.7 346.7,202.7 348.2,199.6 349.7,197.8 351.2,199.0 352.7,199.5 354.2,198.4 355.8,196.7 356.9,199.0 358.0,201.4 359.3,200.1 360.6,199.2 361.8,198.0 363.3,196.3 364.8,195.4 366.4,193.6 367.7,191.9 369.1,188.7 370.2,188.2 371.2,186.4 372.4,185.9 373.5,185.1 374.7,184.4 376.2,188.6 377.7,192.5 379.2,190.1 380.8,186.3 381.9,188.5 383.0,190.9 384.3,189.5 385.6,188.1 386.8,187.5 388.0,186.3 389.1,185.3 390.2,188.2 391.4,191.9 392.6,189.7 393.9,188.3 395.2,186.0 396.7,182.6 398.2,179.7 399.7,176.7 401.2,175.2 402.7,175.2 404.2,174.4 405.8,173.4 406.9,171.6 408.0,169.0 409.2,167.4 410.4,165.4 411.5,162.2 412.8,165.9 414.1,169.3 415.4,169.6 416.6,169.5 417.9,169.5 419.0,171.6 420.2,172.5 421.3,171.8 422.4,171.1 423.6,173.5 424.7,175.9 426.2,175.0 427.7,173.0 429.0,173.4 430.3,175.1 431.5,176.2 432.8,176.9 434.0,177.7 435.3,178.8 436.6,181.3 437.8,183.5 439.1,185.9 440.0,185.3 441.1,184.7 442.3,184.8 443.6,181.1 444.8,177.0 446.2,180.1 447.6,183.6 448.8,186.3 450.1,189.1 451.4,191.8 452.9,188.6 454.4,186.3 455.9,183.3 457.4,183.5 458.9,183.8 460.5,186.1 462.0,188.4 463.5,185.6 465.0,183.4 466.5,181.9 468.0,180.3 469.2,178.4 470.3,176.3 471.4,176.9 472.6,178.6 474.1,180.6 475.6,183.1 477.1,181.2 478.6,178.5 479.9,178.7 481.2,178.2 482.4,177.3 483.9,174.5 485.5,171.1 486.8,169.0 488.2,165.9 489.3,168.7 490.4,171.1 491.5,173.5 492.7,171.9 493.8,170.1 495.3,170.1 496.8,171.2 498.3,174.3 499.8,172.9 501.4,172.1 502.5,174.2 503.6,177.1 505.2,177.5 506.7,178.7 508.2,178.3 509.7,166.0 510.8,163.1 512.0,158.5 513.5,163.5 515.0,167.5 516.5,166.5 518.0,165.5 519.5,165.8 521.1,166.8 522.2,167.5 523.3,169.8 524.6,169.8 525.9,170.3 527.1,169.9 528.6,174.0 530.2,177.6 531.3,172.5 532.4,168.6 533.9,168.5 535.5,168.4 536.6,167.7 537.7,167.7 538.9,170.8 540.0,174.2 541.3,172.3 542.5,169.9 543.8,167.9 544.9,169.8 546.1,171.7 547.6,171.0 549.1,169.8 550.0,170.6 551.5,171.1 553.0,170.5 554.5,170.9 556.1,169.2 557.6,168.8 559.1,167.9 560.4,166.8 561.7,165.7 563.1,164.7 564.4,163.9 565.9,164.5 567.4,163.9 568.9,164.1 570.5,169.4 571.7,169.7 573.0,169.3 574.2,169.3 575.6,171.1 577.0,172.1 578.1,170.8 579.2,169.4 580.3,168.4 581.8,167.4 583.3,166.5 584.8,166.3 586.4,165.8 587.9,162.6 589.4,160.5 590.9,157.6 592.2,158.3 593.4,158.1 594.7,157.9 595.8,153.9 597.0,149.6 598.1,150.4 599.2,150.5 600.8,152.7 602.3,155.3 603.4,154.1 604.5,153.5 606.1,154.3 607.6,156.8 609.1,155.8 610.6,155.6 611.9,157.5 613.1,160.1 614.4,162.2 615.9,162.8 617.4,163.5 618.9,164.7 620.5,165.7 621.7,164.4 623.0,164.0 624.2,163.5 625.4,159.1 626.5,154.9 627.7,155.0 628.8,155.7 630.1,156.9 631.3,158.5 632.6,159.6 634.1,162.7 635.6,166.5 636.9,163.8 638.1,160.9 639.4,158.7 640.7,158.1 641.9,157.4 643.2,155.9 644.3,157.4 645.5,157.5 646.7,155.4 648.0,153.4 649.2,150.5 650.5,145.4 651.8,141.2 653.0,135.5 654.5,136.7 656.1,138.1 657.6,141.3 659.0,133.8 660.5,127.4 661.9,120.7 663.4,118.8 664.9,116.6 666.2,112.7 667.5,108.9 668.8,104.1 670.2,108.6 671.7,112.6 673.0,111.4 674.3,110.6 675.6,108.6 677.1,107.6 678.5,105.6 680.0,108.1 681.4,112.5 682.7,108.6 684.0,105.8 685.3,102.5 686.8,106.9 688.3,112.2 689.7,112.7 691.2,113.3 692.7,116.6 694.1,121.0 695.4,120.0 696.7,118.4 698.0,116.9 699.3,114.2 700.6,112.3 701.9,109.9 703.2,111.3 704.5,112.2 705.8,113.0 707.1,110.7 708.4,109.2 709.7,107.3 711.2,105.3 712.6,104.6 714.1,106.8 715.6,108.7 716.5,104.7 718.0,108.7 719.5,113.8 720.7,112.7 721.9,111.1 723.1,109.6 724.3,108.3 725.6,108.7 726.9,109.2 728.2,109.7 729.4,109.1 730.7,109.3 731.9,108.9 733.1,108.1 734.3,109.6 735.5,110.4 736.8,111.5 738.0,112.8 739.4,112.9 740.9,111.5 742.4,111.5 743.8,110.7 745.0,110.8 746.3,109.9 747.5,109.4 748.7,109.0 749.7,101.3 750.6,93.8 751.6,86.0 752.6,79.2 754.0,80.8" fill="none" stroke="#55abe4" stroke-width="2" stroke-linejoin="round" stroke-linecap="round"/>
<polyline points="115.0,156.8 116.2,157.2 117.5,157.5 118.7,156.7 120.0,156.1 121.2,155.2 122.5,154.8 123.7,153.5 125.0,153.7 126.2,154.7 127.5,154.9 128.7,153.7 130.0,151.4 131.2,151.5 132.5,150.9 133.7,151.6 135.0,151.9 136.2,151.6 137.5,152.2 138.7,152.5 140.0,153.6 141.2,152.5 142.5,150.8 143.7,151.7 145.0,151.1 146.2,151.8 147.5,151.4 148.7,151.6 150.0,152.9 151.2,150.3 152.5,150.5 153.7,151.5 155.0,151.6 156.2,151.1 157.5,152.0 158.7,151.1 160.0,150.8 161.2,149.7 162.4,149.8 163.7,148.9 164.9,148.6 166.2,148.1 167.4,147.0 168.7,147.5 169.9,147.7 171.2,148.6 172.4,149.5 173.7,150.7 174.9,152.0 176.2,151.0 177.4,151.4 178.7,150.4 179.9,149.8 181.2,150.0 182.4,149.3 183.7,149.3 184.9,149.7 186.2,150.4 187.4,150.1 188.7,152.2 189.9,152.2 191.2,154.0 192.4,153.7 193.7,152.4 194.9,152.8 196.2,152.3 197.4,152.4 198.7,151.7 199.9,151.7 201.2,151.8 202.4,152.5 203.7,151.6 204.9,152.1 206.2,152.2 207.4,152.0 208.7,151.2 209.9,151.1 211.1,151.7 212.4,152.5 213.6,152.2 214.9,153.4 216.1,152.5 217.4,151.6 218.6,149.8 219.9,149.8 220.0,149.6 221.3,149.4 222.6,149.2 223.9,147.4 225.2,144.6 226.3,144.2 227.4,142.7 228.4,141.4 229.7,142.7 231.0,143.8 232.3,146.6 233.6,149.6 234.9,148.9 236.2,147.9 237.5,146.4 238.8,147.4 240.1,149.6 241.4,149.4 242.7,149.5 244.0,150.0 245.3,151.1 246.6,150.4 247.9,149.0 249.2,147.7 250.5,146.0 251.8,147.9 253.1,147.8 254.4,147.7 255.7,147.4 257.0,147.8 258.3,149.6 259.6,150.9 260.9,151.7 262.2,152.9 263.5,151.5 264.8,151.2 266.1,150.2 267.4,150.2 268.7,148.9 269.8,149.3 270.9,150.1 271.9,150.1 273.2,150.4 274.5,149.9 275.8,148.9 277.1,148.0 278.4,148.4 279.7,148.9 281.0,148.4 282.3,147.6 283.6,147.3 284.7,147.4 285.8,146.8 286.9,145.9 288.4,144.9 289.9,144.0 291.3,144.7 292.7,145.9 294.0,147.0 295.3,147.6 296.6,147.6 297.9,148.2 299.2,148.3 300.5,148.3 301.8,147.7 303.1,147.3 304.4,146.3 305.7,147.4 307.0,147.6 308.3,147.4 309.6,147.4 310.9,147.0 312.2,146.3 313.5,146.8 314.8,146.3 316.1,147.7 317.4,148.6 318.7,150.7 320.0,149.6 321.3,149.3 322.6,148.9 323.9,149.2 325.2,148.9 326.5,146.8 327.8,144.0 329.3,143.2 330.8,142.2 332.4,141.2 333.9,139.6 335.2,139.1 336.5,138.2 337.8,136.1 339.1,134.4 340.1,133.1 341.0,131.3 342.0,132.3 343.0,132.9 344.1,134.3 345.2,135.0 346.2,135.2 347.5,134.4 348.8,133.5 350.1,134.0 351.4,133.9 352.5,134.0 353.6,133.2 354.7,132.8 356.0,133.5 357.3,134.7 358.6,134.4 359.9,133.8 361.2,133.5 362.3,132.1 363.3,131.6 364.4,131.2 365.7,130.4 367.0,128.8 368.3,128.3 369.8,127.2 371.3,125.6 372.5,125.6 373.6,124.9 374.8,124.3 376.1,127.0 377.4,129.8 378.7,127.7 380.0,125.8 381.1,126.5 382.2,127.8 383.2,128.6 384.5,127.5 385.8,126.2 386.9,125.6 388.0,126.1 389.1,124.9 390.4,127.0 391.7,128.5 392.8,127.5 393.9,126.1 394.9,125.8 396.0,124.0 397.1,122.3 398.2,121.7 399.3,120.2 400.3,119.9 401.4,118.8 402.5,119.3 403.6,119.9 404.7,120.0 406.0,118.2 407.3,117.4 408.2,116.5 409.2,115.6 410.4,113.6 411.6,112.3 412.7,113.4 413.8,114.9 414.8,115.4 415.9,115.4 417.0,115.6 418.3,116.5 419.6,115.8 420.9,116.6 422.2,117.7 423.5,119.1 424.8,119.9 426.1,119.4 427.4,118.7 428.7,118.8 430.0,119.5 431.3,120.0 432.6,120.5 433.9,121.6 435.2,121.4 436.3,123.4 437.4,124.6 438.4,125.6 440.0,125.2 441.3,125.7 442.6,124.8 443.8,122.8 444.9,120.7 446.4,123.1 447.8,124.1 449.1,125.4 450.4,127.2 451.7,128.3 453.0,127.5 454.3,126.0 455.6,124.6 456.7,125.1 457.7,125.2 458.8,124.3 460.1,126.1 461.4,127.2 462.7,126.6 464.0,125.1 465.3,123.9 466.6,123.3 467.9,122.5 469.0,122.3 470.1,120.5 471.2,119.7 472.5,121.1 473.8,122.8 475.1,124.3 476.1,123.5 477.2,121.8 478.3,121.6 479.4,121.2 480.5,121.5 481.6,121.4 482.6,120.3 483.7,119.4 484.8,118.3 485.9,116.7 487.0,115.7 488.1,114.1 489.1,114.9 490.2,116.6 491.3,118.3 492.6,117.8 493.9,116.8 495.0,117.3 496.1,117.6 497.1,119.3 498.2,118.4 499.3,118.2 500.4,117.9 501.5,119.0 502.6,120.1 503.6,121.8 505.2,121.3 506.7,121.4 508.2,121.9 509.2,114.7 510.3,113.4 511.4,112.6 512.5,110.3 513.6,112.4 514.7,113.5 515.8,114.5 516.9,113.9 518.0,114.0 519.1,113.8 520.2,113.7 521.4,114.9 522.5,115.9 523.9,116.1 525.2,116.1 526.6,116.2 527.7,117.8 528.9,119.2 530.0,119.5 531.2,118.0 532.5,117.0 533.9,116.4 535.2,115.7 536.6,114.5 538.0,117.1 539.5,119.2 540.8,118.0 542.0,116.5 543.3,114.5 544.5,116.4 545.8,116.8 547.2,117.1 548.7,117.3 550.1,116.9 551.5,116.2 552.9,116.2 554.4,116.8 555.8,115.8 557.2,115.7 558.5,114.8 559.9,113.8 561.1,113.9 562.4,112.8 563.6,112.5 564.9,112.4 566.3,112.2 567.7,112.3 569.1,113.0 570.0,116.1 571.2,116.2 572.5,115.8 573.9,116.6 575.2,116.9 576.5,117.7 577.8,116.8 579.0,116.5 580.3,115.2 581.8,114.2 583.3,114.4 584.8,113.2 586.4,113.2 587.9,111.6 589.4,110.7 590.9,108.8 592.2,108.7 593.4,108.1 594.7,108.2 596.2,105.9 597.7,104.5 598.9,104.9 600.0,105.1 601.1,106.5 602.3,108.0 603.5,107.9 604.8,106.8 606.1,106.9 607.6,107.3 609.1,107.2 610.6,108.4 612.1,108.8 613.6,110.0 615.2,111.6 616.7,111.7 618.2,112.8 619.7,112.9 621.2,113.1 622.7,113.1 624.2,111.8 625.4,110.5 626.5,107.7 627.7,107.9 628.8,109.0 630.1,109.2 631.3,109.2 632.6,109.6 634.1,112.4 635.6,114.0 636.9,112.5 638.1,110.1 639.4,108.9 640.9,108.3 642.4,107.8 643.9,107.5 645.5,107.1 647.0,106.0 648.2,103.6 649.5,100.8 650.8,99.0 651.9,97.7 653.0,96.7 654.3,97.0 655.6,98.3 656.8,98.7 658.4,96.2 660.0,93.6 661.5,90.3 662.9,86.5 663.9,85.7 664.9,85.2 666.2,82.4 667.5,79.3 668.8,77.3 670.1,79.5 671.4,82.4 672.7,84.2 674.0,82.7 675.3,81.2 676.6,79.0 678.0,80.2 679.5,81.7 680.7,79.9 681.9,78.5 683.1,77.0 684.4,75.8 685.3,75.8 686.8,79.3 688.3,81.4 689.7,82.0 691.2,82.5 692.5,83.9 693.8,85.5 695.1,87.0 696.4,86.1 697.7,84.4 699.0,84.2 700.4,82.1 701.9,81.3 703.2,81.7 704.5,82.3 705.8,82.7 707.1,81.9 708.4,79.7 709.7,79.0 711.2,77.7 712.6,77.1 714.1,78.6 715.6,79.5 716.5,76.6 718.0,78.8 719.5,81.5 720.7,80.6 721.9,80.2 723.1,80.1 724.3,78.7 725.6,79.1 726.9,79.7 728.2,80.0 729.4,80.3 730.7,80.1 731.9,79.3 733.1,79.2 734.3,80.2 735.5,81.1 736.8,81.4 738.0,81.7 739.4,82.1 740.9,80.8 742.4,80.6 743.8,81.1 745.0,80.2 746.3,79.3 747.5,79.4 748.7,79.4 749.7,74.0 750.6,68.9 751.6,64.3 752.6,59.9 754.0,63.3" fill="none" stroke="#10976d" stroke-width="2" stroke-linejoin="round" stroke-linecap="round"/>
<polyline points="115.0,146.0 116.2,145.6 117.5,145.2 118.7,145.1 120.0,143.9 121.2,144.0 122.5,143.3 123.7,142.8 125.0,143.1 126.2,143.0 127.5,143.9 128.7,142.9 130.0,142.3 131.2,142.5 132.5,142.8 133.7,142.4 135.0,142.8 136.2,143.2 137.5,143.6 138.7,143.5 140.0,143.6 141.2,144.4 142.5,143.5 143.7,144.3 145.0,143.5 146.2,143.7 147.5,143.9 148.7,144.3 150.0,145.1 150.9,143.4 151.8,142.8 153.4,143.3 155.0,143.3 156.2,143.8 157.5,143.5 158.7,143.4 160.0,143.4 161.2,143.6 162.4,143.0 163.7,142.6 164.9,142.6 166.5,142.1 168.1,141.6 169.0,142.5 169.9,142.7 171.2,142.8 172.4,143.8 173.7,144.9 174.9,146.4 176.2,145.7 177.4,144.7 178.7,144.9 179.9,143.3 181.2,143.6 182.4,143.9 183.7,143.2 184.9,143.5 186.2,143.4 187.4,144.5 188.7,145.5 189.9,146.1 191.2,147.3 192.4,146.2 193.7,146.2 194.9,145.7 196.2,145.5 197.4,145.2 198.7,145.5 199.9,145.5 201.2,144.6 202.4,144.5 203.7,143.6 204.9,144.0 206.2,143.8 207.4,144.1 208.7,143.9 209.9,143.2 211.1,143.5 212.4,143.9 213.6,143.8 214.9,144.9 216.1,143.9 217.4,143.1 218.6,142.2 219.9,142.2 220.0,141.4 221.3,141.3 222.6,141.2 223.9,138.9 225.2,135.3 226.3,134.1 227.4,132.7 228.4,131.6 229.7,132.7 231.0,133.9 232.3,135.3 233.6,137.6 234.9,135.7 236.2,134.4 237.2,134.3 238.2,133.1 239.5,135.4 240.8,135.6 242.1,135.8 243.2,136.8 244.2,137.7 245.3,138.1 246.6,136.8 247.9,136.3 249.2,135.1 250.5,134.1 251.8,135.0 253.1,135.3 254.4,134.3 255.7,133.6 257.0,134.6 258.3,134.8 259.6,137.0 260.9,138.1 262.2,139.4 263.5,138.5 264.8,137.3 265.9,136.7 267.0,135.8 268.1,135.9 269.1,135.4 270.2,135.5 271.3,135.8 272.4,136.0 273.5,136.5 274.5,136.5 275.8,135.5 277.1,134.7 278.1,135.6 279.1,136.9 280.2,136.1 281.3,136.6 282.3,135.8 283.6,134.7 284.9,134.1 286.2,133.6 287.3,132.8 288.4,131.8 289.5,131.8 290.8,133.3 292.1,134.0 293.6,134.4 295.1,134.3 296.6,134.6 297.9,134.7 299.2,134.4 300.5,134.8 302.0,133.6 303.5,133.0 305.1,133.6 306.0,134.0 307.0,134.4 308.3,133.9 309.6,132.3 310.9,131.8 312.0,132.1 313.1,131.8 314.2,131.4 315.7,131.9 317.2,132.9 318.7,133.7 320.0,133.2 321.3,131.9 322.6,132.1 323.9,131.6 325.2,131.5 326.5,132.2 327.5,128.8 328.4,125.1 330.0,123.8 331.3,122.9 332.6,121.8 333.7,120.0 334.8,119.0 335.8,117.5 336.9,115.2 338.0,113.2 339.1,111.6 340.1,111.2 341.0,111.4 342.0,113.6 343.0,115.0 344.3,116.8 345.6,118.2 346.6,119.1 347.5,119.5 348.5,117.7 349.5,116.1 350.8,117.0 352.1,118.0 353.2,118.2 354.2,118.3 355.3,118.0 356.6,118.6 357.9,119.8 359.0,119.7 360.1,118.7 361.2,119.1 362.3,118.3 363.3,117.1 364.4,116.0 365.5,114.8 366.6,113.6 367.7,113.4 368.9,111.9 370.1,111.5 371.3,110.6 372.7,110.5 374.2,111.1 375.5,113.1 376.8,114.3 377.8,112.7 378.9,111.7 380.0,110.8 381.1,112.3 382.2,112.8 383.2,112.7 384.5,111.9 385.8,110.4 387.1,109.3 388.4,108.1 389.5,109.5 390.6,110.2 391.7,111.3 392.8,111.5 393.9,110.3 394.9,109.3 396.0,108.2 397.1,106.1 398.2,105.1 399.3,103.7 400.3,101.8 401.4,100.5 402.7,100.9 404.0,101.1 405.3,98.9 406.6,96.0 407.9,95.8 409.2,95.2 410.2,94.0 411.2,91.3 412.1,92.5 413.1,93.7 414.4,95.4 415.7,96.1 417.0,96.4 418.3,95.6 419.6,97.2 420.9,98.9 422.2,99.3 423.5,100.7 424.8,99.8 426.1,98.9 427.4,99.8 428.7,99.1 430.0,100.6 431.3,102.1 432.6,102.3 433.9,102.5 435.2,103.4 436.5,104.1 437.8,105.6 439.1,106.2 440.0,106.7 441.3,105.7 442.6,105.1 443.8,102.7 444.9,99.5 446.0,101.8 447.1,104.3 448.4,106.2 449.7,107.4 451.0,109.3 452.0,108.3 453.0,107.3 454.3,105.5 455.6,103.3 456.7,103.8 457.7,104.2 458.8,105.2 460.1,105.9 461.4,107.0 462.7,105.5 464.0,103.1 465.3,102.8 466.6,102.6 467.9,101.8 469.0,99.5 470.1,98.0 471.2,96.8 472.5,98.1 473.8,100.1 475.1,101.6 476.1,101.4 477.2,100.7 478.3,99.9 479.4,99.1 480.5,99.7 481.6,99.7 482.6,98.2 483.7,98.2 484.8,97.4 486.3,94.3 487.8,92.8 489.0,93.7 490.1,95.4 491.3,97.4 492.6,96.3 493.9,94.6 495.0,95.9 496.1,97.1 497.1,98.0 498.4,97.2 499.7,96.7 500.7,97.5 501.7,97.0 502.7,99.9 503.6,102.0 504.7,101.5 505.8,101.9 506.9,102.2 508.2,105.7 509.5,108.7 510.0,110.9 511.1,109.3 512.1,108.0 513.5,108.5 515.0,110.1 516.2,110.3 517.5,111.5 518.6,111.2 519.7,111.4 520.8,112.0 521.8,113.4 522.9,114.1 524.3,113.0 525.8,112.5 527.2,114.9 528.6,116.0 530.0,117.7 531.0,115.4 532.0,113.7 533.1,114.1 534.3,113.5 535.4,112.8 536.6,114.0 537.9,113.8 538.7,115.5 539.5,116.1 540.8,115.1 542.0,112.3 543.3,111.2 544.3,112.2 545.4,113.5 546.9,113.8 548.5,114.2 550.0,113.4 551.5,113.1 552.9,113.3 554.3,112.8 555.8,112.5 557.0,111.8 558.3,111.0 559.5,110.5 561.0,109.8 562.6,108.9 564.1,108.6 565.6,108.6 567.0,109.4 568.5,109.5 570.0,110.2 571.3,109.9 572.6,110.1 573.9,109.8 575.2,110.6 576.5,110.4 577.8,109.4 579.0,109.1 580.3,109.0 581.7,107.6 583.0,107.9 584.4,107.0 585.8,106.7 587.1,106.6 588.4,104.6 589.6,103.2 590.9,101.9 592.2,101.7 593.4,100.5 594.7,100.5 596.2,97.9 597.7,95.3 598.9,96.0 600.0,97.0 601.1,98.1 602.3,99.7 603.8,99.1 605.3,99.4 606.6,99.3 608.0,99.6 609.3,100.0 610.6,101.3 612.1,102.3 613.6,103.1 615.2,103.7 616.5,104.2 617.8,104.8 619.1,105.6 620.5,105.8 622.0,105.8 623.5,105.2 625.0,103.1 626.5,100.2 627.7,100.0 628.8,99.9 630.1,101.2 631.3,101.0 632.6,101.5 634.1,102.6 635.6,104.6 636.9,102.9 638.1,101.2 639.4,99.1 640.7,98.5 641.9,97.0 643.2,96.4 644.4,96.6 645.7,97.4 647.0,97.4 648.5,95.5 650.0,93.9 651.5,89.3 653.0,85.1 654.5,84.7 656.1,84.5 657.2,85.2 658.3,86.0 659.2,83.2 660.0,79.7 661.5,75.7 662.9,72.6 664.4,70.7 665.8,70.3 667.3,65.9 668.8,60.8 670.2,67.5 671.7,73.4 673.2,71.7 674.6,70.3 676.1,68.3 677.5,65.4 678.5,69.4 679.5,73.0 680.8,71.4 682.1,69.4 683.4,67.5 684.7,67.6 686.0,68.2 687.3,68.3 688.8,69.8 690.2,70.8 691.5,71.8 692.8,73.3 694.1,74.8 695.6,73.1 697.0,72.4 698.3,71.1 699.6,70.2 700.9,69.3 702.2,69.6 703.5,69.8 704.8,69.5 706.1,69.1 707.4,67.8 708.7,66.2 710.0,64.6 711.3,63.1 712.6,60.8 714.1,63.0 715.6,64.0 716.9,60.8 718.2,65.0 719.5,69.4 720.7,68.3 721.9,68.4 723.1,68.2 724.3,67.2 725.6,67.4 726.9,67.8 728.2,68.3 729.5,67.8 730.8,67.0 732.1,66.3 733.3,66.5 734.6,67.3 735.8,68.1 737.0,69.4 738.5,69.4 739.9,70.2 741.2,69.0 742.5,68.6 743.8,68.3 745.1,68.9 746.4,69.1 747.7,69.3 748.7,67.4 749.7,66.2 750.6,55.4 751.6,44.7 752.6,43.9 754.0,46.7" fill="none" stroke="#f9a11b" stroke-width="2" stroke-linejoin="round" stroke-linecap="round"/>
<circle cx="371.2" cy="186.1" r="8" fill="#55abe4" fill-opacity="0.22"/><circle cx="371.2" cy="186.1" r="2.8" fill="#55abe4" stroke="#fff" stroke-width="0.6" stroke-opacity="0.6"/>
<circle cx="371.3" cy="126.1" r="8" fill="#10976d" fill-opacity="0.22"/><circle cx="371.3" cy="126.1" r="2.3" fill="#10976d" stroke="#fff" stroke-width="1.1"/>
<circle cx="371.1" cy="109.6" r="8" fill="#f9a11b" fill-opacity="0.22"/><rect x="368" y="106.8" width="6.2" height="6.2" fill="#f9a11b"/>
<path d="M333,293.8 H531.6 V208" fill="none" stroke="#000" stroke-opacity="0.05" stroke-width="1"/>
<path d="M332.6,293.3 H531.1 V207.8" fill="none" stroke="#000" stroke-opacity="0.09" stroke-width="1"/>
<rect x="331.6" y="206.8" width="198.6" height="85.6" fill="#fff" fill-opacity="0.88" stroke="#c4c4c4" stroke-width="1" rx="1"/>
<text x="341.00" y="226.90" font-size="9" fill="#333" font-weight="normal" textLength="173.00" lengthAdjust="spacingAndGlyphs" >Saturday, Jan 05 2019, 07:09:11 UTC+02:00</text>
<circle cx="345" cy="235.20" r="3" fill="#55abe4"/>
<text x="352.60" y="238.80" font-size="9.8" fill="#333" font-weight="normal" textLength="59.10" lengthAdjust="spacingAndGlyphs" >Market Cap:</text>
<text x="417.00" y="238.80" font-size="9.8" fill="#111" font-weight="bold" textLength="101.80" lengthAdjust="spacingAndGlyphs" >1,478,712,670 USD</text>
<circle cx="345" cy="248.13" r="3" fill="#10976d"/>
<text x="352.60" y="251.73" font-size="9.8" fill="#333" font-weight="normal" textLength="57.40" lengthAdjust="spacingAndGlyphs" >Price (USD):</text>
<text x="414.00" y="251.73" font-size="9.8" fill="#111" font-weight="bold" textLength="50.50" lengthAdjust="spacingAndGlyphs" >0.022190</text>
<circle cx="345" cy="261.06" r="3" fill="#f9a11b"/>
<text x="352.60" y="264.66" font-size="9.8" fill="#333" font-weight="normal" textLength="56.00" lengthAdjust="spacingAndGlyphs" >Price (BTC):</text>
<text x="413.30" y="264.66" font-size="9.8" fill="#111" font-weight="bold" textLength="63.10" lengthAdjust="spacingAndGlyphs" >0.00000572</text>
<circle cx="345" cy="273.99" r="3" fill="#7a7a7a"/>
<text x="352.60" y="277.59" font-size="9.8" fill="#333" font-weight="normal" textLength="41.70" lengthAdjust="spacingAndGlyphs" >24h Vol:</text>
<text x="398.60" y="277.59" font-size="9.8" fill="#111" font-weight="bold" textLength="91.60" lengthAdjust="spacingAndGlyphs" >180,690,713 USD</text>
<line x1="114" y1="366" x2="754" y2="366" stroke="#e6e6e6" stroke-width="1"/>
<g stroke="#e3e3e3" stroke-width="1" stroke-dasharray="1.5,1">
<line x1="230.5" y1="366" x2="230.5" y2="397.5"/>
<line x1="354.5" y1="366" x2="354.5" y2="397.5"/>
<line x1="479.5" y1="366" x2="479.5" y2="397.5"/>
<line x1="604" y1="366" x2="604" y2="397.5"/>
<line x1="728" y1="366" x2="728" y2="397.5"/>
</g>
<polygon points="126.0,395.0 229.0,394.5 241.7,393.3 250.0,391.5 263.3,391.2 268.3,387.0 269.4,384.0 270.4,368.8 271.6,368.8 272.5,376.2 275.0,375.8 276.6,379.5 279.1,382.8 281.6,382.4 286.2,389.0 287.9,386.6 291.6,386.6 294.1,387.9 301.6,388.3 305.0,388.8 312.5,392.0 317.5,390.0 327.5,389.3 340.0,390.0 350.0,391.3 365.0,392.0 390.0,391.3 405.0,389.5 410.0,387.0 420.0,385.8 432.5,387.5 445.0,386.8 465.0,388.8 477.5,390.0 490.0,391.3 513.0,391.0 530.0,391.8 550.0,392.8 573.0,393.0 601.0,392.3 620.0,392.2 640.0,392.5 667.0,392.3 684.0,393.6 711.0,393.6 719.0,392.5 742.0,392.5 742,397.5 126,397.5" fill="#eaf3fb" stroke="none"/>
<polyline points="126.0,395.0 128.0,395.0 130.0,395.0 131.9,395.3 133.9,394.9 135.9,395.0 137.9,395.0 139.9,394.7 141.8,394.9 143.8,395.0 145.8,395.1 147.8,394.6 149.8,394.7 151.8,394.6 153.7,395.1 155.7,395.0 157.7,394.5 159.7,395.2 161.7,395.2 163.6,394.9 165.6,394.9 167.6,394.6 169.6,394.4 171.6,394.8 173.5,394.5 175.5,394.5 177.5,394.6 179.5,394.4 181.5,394.7 183.4,394.7 185.4,395.0 187.4,394.7 189.4,394.8 191.4,394.7 193.3,394.8 195.3,394.6 197.3,394.5 199.3,395.0 201.3,395.0 203.2,394.9 205.2,394.8 207.2,394.5 209.2,394.4 211.2,394.4 213.2,394.3 215.1,394.8 217.1,394.5 219.1,394.8 221.1,394.5 223.1,394.8 225.0,394.8 227.0,394.2 229.0,394.3 230.8,394.6 232.6,394.1 234.4,394.3 236.3,393.7 238.1,393.3 239.9,393.6 241.7,393.5 243.4,392.8 245.0,392.3 246.7,392.1 248.3,392.2 250.0,391.7 251.9,391.2 253.8,391.2 255.7,391.1 257.6,391.0 259.5,391.5 261.4,391.0 263.3,391.2 265.0,389.8 266.6,388.2 268.3,387.2 269.4,383.7 270.4,368.9 271.6,368.5 272.5,376.1 273.8,375.8 275.0,375.6 276.6,379.8 277.9,381.4 279.1,382.7 280.4,382.9 281.6,382.2 283.1,384.5 284.7,387.0 286.2,389.1 287.9,386.3 289.8,386.9 291.6,386.4 292.9,387.1 294.1,388.1 296.0,387.9 297.9,388.0 299.7,387.9 301.6,388.0 303.3,388.6 305.0,388.6 306.9,389.7 308.8,390.3 310.6,391.2 312.5,392.3 314.2,391.3 315.8,390.7 317.5,390.3 319.5,389.6 321.5,389.5 323.5,389.9 325.5,389.7 327.5,389.1 329.3,389.2 331.1,389.7 332.9,389.9 334.6,389.5 336.4,390.1 338.2,390.2 340.0,390.1 342.0,390.2 344.0,390.2 346.0,390.5 348.0,391.4 350.0,391.1 351.9,391.5 353.8,391.3 355.6,391.8 357.5,391.7 359.4,391.6 361.2,391.6 363.1,392.1 365.0,391.7 366.9,391.8 368.8,391.9 370.8,392.1 372.7,391.9 374.6,391.6 376.5,392.0 378.5,391.4 380.4,391.2 382.3,391.4 384.2,391.4 386.2,391.1 388.1,391.1 390.0,391.2 391.9,391.1 393.8,390.6 395.6,390.5 397.5,390.7 399.4,390.5 401.2,390.1 403.1,389.9 405.0,389.6 406.7,388.4 408.3,387.5 410.0,386.7 412.0,387.0 414.0,386.7 416.0,386.6 418.0,385.7 420.0,385.9 421.8,386.0 423.6,386.4 425.4,386.4 427.1,387.1 428.9,386.7 430.7,387.3 432.5,387.7 434.3,387.7 436.1,387.5 437.9,387.3 439.6,387.3 441.4,387.3 443.2,386.8 445.0,386.9 447.0,387.3 449.0,387.5 451.0,387.3 453.0,387.8 455.0,388.1 457.0,388.1 459.0,388.3 461.0,388.3 463.0,388.7 465.0,388.9 466.8,388.7 468.6,389.2 470.4,389.7 472.1,389.8 473.9,389.8 475.7,389.8 477.5,390.2 479.3,390.2 481.1,390.3 482.9,390.8 484.6,390.5 486.4,391.1 488.2,390.8 490.0,391.4 491.9,391.3 493.8,391.1 495.8,391.4 497.7,391.2 499.6,391.3 501.5,391.4 503.4,391.0 505.3,390.8 507.2,390.9 509.2,391.2 511.1,390.8 513.0,390.8 514.9,391.4 516.8,391.3 518.7,391.2 520.6,391.6 522.4,391.3 524.3,391.6 526.2,391.4 528.1,391.7 530.0,392.0 532.0,392.2 534.0,392.3 536.0,392.0 538.0,392.3 540.0,392.2 542.0,392.1 544.0,392.5 546.0,392.8 548.0,392.9 550.0,392.9 551.9,393.1 553.8,392.7 555.8,392.6 557.7,392.8 559.6,392.7 561.5,392.7 563.4,392.9 565.3,393.0 567.2,392.9 569.2,392.8 571.1,393.2 573.0,393.3 575.0,392.9 577.0,392.6 579.0,392.5 581.0,393.1 583.0,392.4 585.0,392.8 587.0,392.7 589.0,392.5 591.0,392.8 593.0,392.2 595.0,392.2 597.0,392.4 599.0,392.0 601.0,392.5 602.9,392.1 604.8,392.0 606.7,392.0 608.6,392.4 610.5,392.2 612.4,392.3 614.3,392.3 616.2,392.4 618.1,392.5 620.0,392.3 622.0,392.0 624.0,392.2 626.0,392.1 628.0,392.0 630.0,392.3 632.0,392.5 634.0,392.2 636.0,392.3 638.0,392.4 640.0,392.6 641.9,392.5 643.9,392.6 645.8,392.6 647.7,392.4 649.6,392.6 651.6,392.7 653.5,392.1 655.4,392.7 657.4,392.5 659.3,392.1 661.2,392.3 663.1,392.4 665.1,392.6 667.0,392.2 668.9,392.5 670.8,392.9 672.7,392.9 674.6,393.2 676.4,393.0 678.3,393.3 680.2,393.1 682.1,393.6 684.0,393.8 685.9,393.7 687.9,393.8 689.8,393.4 691.7,393.9 693.6,393.9 695.6,393.9 697.5,393.6 699.4,393.8 701.4,393.5 703.3,393.9 705.2,393.8 707.1,393.5 709.1,393.3 711.0,393.6 713.0,393.4 715.0,393.2 717.0,392.8 719.0,392.2 720.9,392.7 722.8,392.2 724.8,392.7 726.7,392.3 728.6,392.4 730.5,392.7 732.4,392.2 734.3,392.3 736.2,392.5 738.2,392.7 740.1,392.7 742.0,392.5" fill="none" stroke="#55abe4" stroke-width="1.5" stroke-linejoin="round"/>
<text x="232.80" y="395.60" font-size="10" fill="#999" font-weight="normal" textLength="26.20" lengthAdjust="spacingAndGlyphs" >4. Dec</text>
<text x="358.00" y="395.60" font-size="10" fill="#999" font-weight="normal" textLength="32.00" lengthAdjust="spacingAndGlyphs" >12. Mar</text>
<text x="483.00" y="395.60" font-size="10" fill="#999" font-weight="normal" textLength="29.50" lengthAdjust="spacingAndGlyphs" >18. Jun</text>
<text x="607.70" y="395.60" font-size="10" fill="#999" font-weight="normal" textLength="30.70" lengthAdjust="spacingAndGlyphs" >24. Sep</text>
<text x="732.60" y="395.60" font-size="10" fill="#999" font-weight="normal" textLength="31.80" lengthAdjust="spacingAndGlyphs" >31. Dec</text>
<rect x="731.7" y="366" width="11.3" height="31.5" fill="#6685c2" fill-opacity="0.26"/>
<rect x="114" y="397.8" width="640" height="11.9" fill="#f2f2f2"/>
<rect x="114.25" y="398" width="11.7" height="11.5" fill="#e6e6e6" stroke="#cccccc" stroke-width="0.5"/>
<path d="M118.5,404.2 L121.5,401.8 L121.5,406.6 Z" fill="#333"/>
<rect x="742.25" y="398" width="11.5" height="11.5" fill="#e6e6e6" stroke="#cccccc" stroke-width="0.5"/>
<path d="M749.5,404.2 L746.6,401.9 L746.6,406.5 Z" fill="#333"/>
<rect x="731.7" y="397.8" width="10.5" height="11.9" fill="#cccccc"/>
<rect x="728.8" y="375.5" width="6.5" height="12" fill="#f2f2f2" stroke="#999999" stroke-width="1"/>
<line x1="731.1" y1="378" x2="731.1" y2="385" stroke="#333" stroke-width="0.7"/>
<line x1="733.0" y1="378" x2="733.0" y2="385" stroke="#333" stroke-width="0.7"/>
<rect x="739.9" y="375.5" width="6.5" height="12" fill="#f2f2f2" stroke="#999999" stroke-width="1"/>
<line x1="742.2" y1="378" x2="742.2" y2="385" stroke="#333" stroke-width="0.7"/>
<line x1="744.1" y1="378" x2="744.1" y2="385" stroke="#333" stroke-width="0.7"/>
<line x1="329.4" y1="428.2" x2="342.1" y2="428.2" stroke="#55abe4" stroke-width="2"/>
<text x="347.20" y="431.20" font-size="11" fill="#5b8dcc" font-weight="bold" textLength="54.60" lengthAdjust="spacingAndGlyphs" >Market Cap</text>
<line x1="418.7" y1="428.2" x2="431.8" y2="428.2" stroke="#10976d" stroke-width="2"/>
<text x="436.50" y="431.20" font-size="11" fill="#5b8dcc" font-weight="bold" textLength="52.10" lengthAdjust="spacingAndGlyphs" >Price (USD)</text>
<line x1="504.6" y1="428.2" x2="517.2" y2="428.2" stroke="#f9a11b" stroke-width="2"/>
<text x="522.20" y="431.20" font-size="11" fill="#5b8dcc" font-weight="bold" textLength="51.70" lengthAdjust="spacingAndGlyphs" >Price (BTC)</text>
<circle cx="596" cy="428" r="5" fill="#7a7a7a"/>
<text x="607.40" y="431.20" font-size="11" fill="#5b8dcc" font-weight="bold" textLength="36.60" lengthAdjust="spacingAndGlyphs" >24h Vol</text>
<text x="865.00" y="448.70" font-size="8.3" fill="#909090" font-weight="normal" textLength="68.00" lengthAdjust="spacingAndGlyphs" >coinmarketcap.com</text>
</svg></body></html>
